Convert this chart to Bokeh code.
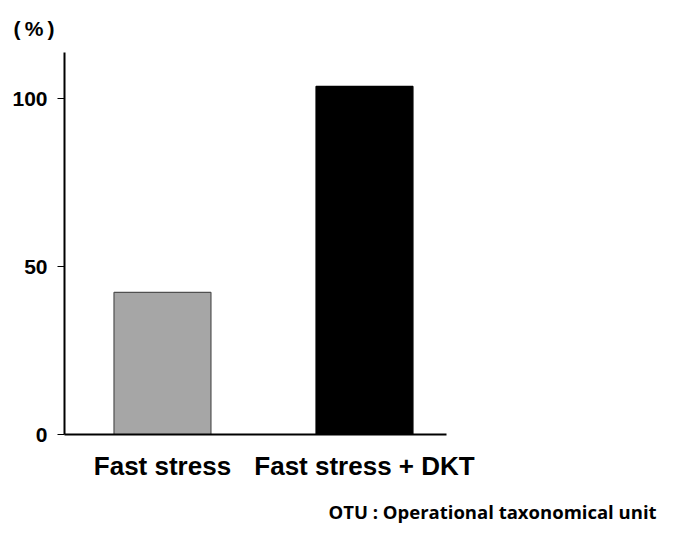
from bokeh.plotting import figure
from bokeh.models import Range1d, FixedTicker, Title, ColumnDataSource
from bokeh.embed import file_html
from bokeh.resources import INLINE

categories = ["Fast stress", "Fast stress + DKT"]
values = [42.3, 103.6]
colors = ["#a6a6a6", "#000000"]
outline = ["#505050", "#000000"]
y_ticks = [0, 50, 100]

xs = list(range(len(categories)))
src = ColumnDataSource(dict(x=xs, top=values, color=colors, line=outline))

p = figure(width=660, height=537, output_backend="svg", toolbar_location=None,
           x_range=Range1d(-0.485, 1.406), y_range=Range1d(0, 113.7),
           min_border_left=64, min_border_right=214, min_border_top=52, min_border_bottom=103)
p.outline_line_color = None
p.xgrid.visible = False
p.ygrid.visible = False
p.background_fill_color = "white"
p.border_fill_color = "white"

p.vbar(x="x", top="top", width=0.48, bottom=0, source=src,
       fill_color="color", line_color="line", line_width=1.2)

font = "Liberation Sans"
# x axis
p.xaxis.ticker = FixedTicker(ticks=xs)
p.xaxis.major_label_overrides = {i: c for i, c in zip(xs, categories)}
p.xaxis.major_tick_line_color = None
p.xaxis.minor_tick_line_color = None
p.xaxis.axis_line_width = 2
p.xaxis.axis_line_color = "black"
p.xaxis.major_label_text_font = font
p.xaxis.major_label_text_font_style = "bold"
p.xaxis.major_label_text_font_size = "26px"
p.xaxis.major_label_text_color = "black"
p.xaxis.major_label_standoff = 10

# y axis
p.yaxis.ticker = FixedTicker(ticks=y_ticks)
p.yaxis.minor_tick_line_color = None
p.yaxis.major_tick_in = 0
p.yaxis.major_tick_out = 7
p.yaxis.major_tick_line_width = 1
p.yaxis.axis_line_width = 2
p.yaxis.axis_line_color = "black"
p.yaxis.major_label_text_font = font
p.yaxis.major_label_text_font_style = "bold"
p.yaxis.major_label_text_font_size = "21px"
p.yaxis.major_label_text_color = "black"
p.yaxis.major_label_standoff = 10

p.title.text = "(\u2009%\u2009)"
p.title.align = "left"
p.title.offset = -51
p.title.text_font = font
p.title.text_font_style = "bold"
p.title.text_font_size = "21px"
p.title.text_color = "black"
p.title.standoff = 26

foot = Title(text="OTU : Operational taxonomical unit", align="left", offset=264,
             text_font="Open Sans", text_font_style="bold", text_font_size="18.5px",
             text_color="black", standoff=27, vertical_align="bottom")
p.add_layout(foot, "below")

open("out.html", "w").write(file_html(p, INLINE))
